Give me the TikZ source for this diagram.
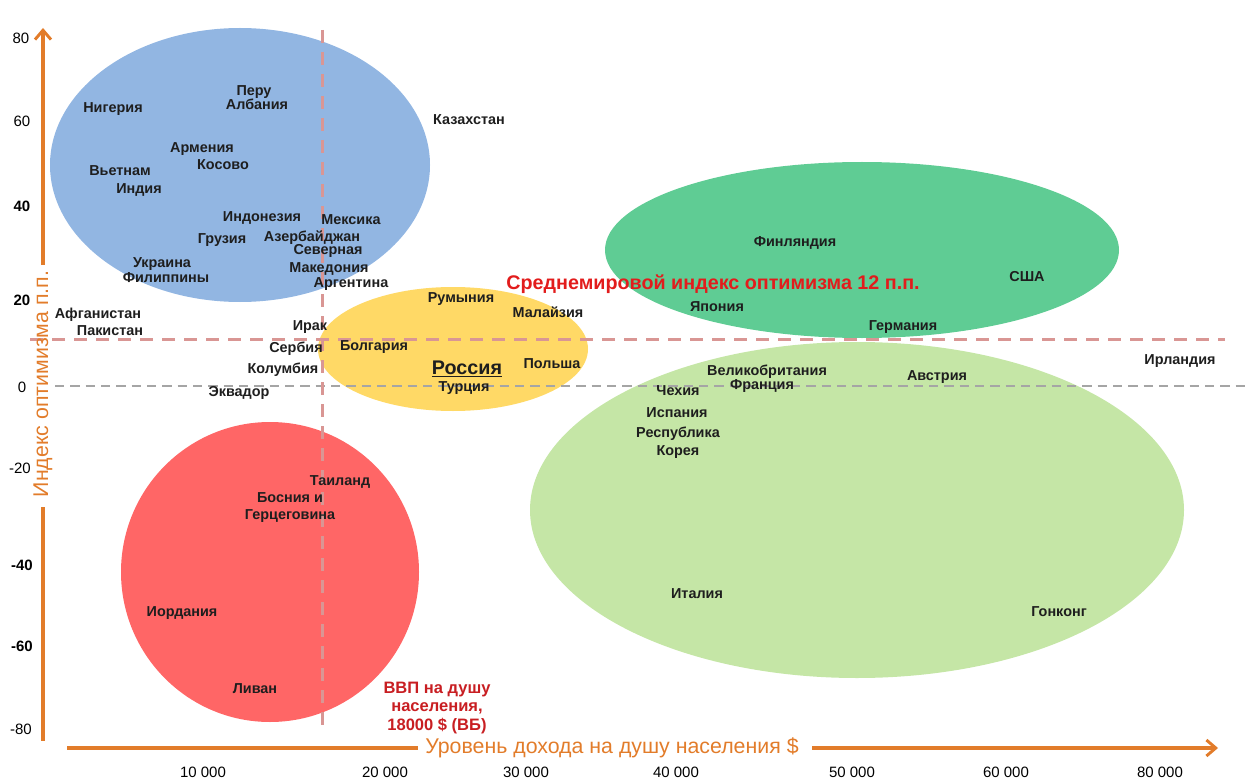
\documentclass[tikz,border=0pt]{standalone}
\usepackage{fontspec}
\setmainfont{Liberation Sans}
\usetikzlibrary{arrows.meta}

\definecolor{axisorange}{RGB}{226,124,42}
\definecolor{blueblob}{RGB}{146,182,226}
\definecolor{yellowblob}{RGB}{255,217,102}
\definecolor{greenblob}{RGB}{95,204,148}
\definecolor{lightgreenblob}{RGB}{197,230,166}
\definecolor{redblob}{RGB}{255,102,102}
\definecolor{pinkline}{RGB}{217,150,148}
\definecolor{grayline}{RGB}{165,165,165}
\definecolor{titlered}{RGB}{226,28,28}
\definecolor{notered}{RGB}{200,30,34}
\definecolor{labeltext}{RGB}{30,30,30}

\begin{document}
\begin{tikzpicture}[x=0.75pt, y=-0.75pt,
    country/.style={font=\fontsize{10.8}{12.5}\selectfont\bfseries, text=labeltext, inner sep=0pt},
    tick/.style={font=\fontsize{11.25}{13}\selectfont, text=black, inner sep=0pt},
    axisline/.style={draw=axisorange, line width=3pt},
    axislabel/.style={font=\fontsize{16}{18}\selectfont, text=axisorange, inner sep=0pt},
    meanline/.style={draw=pinkline, line width=2.25pt, dash pattern=on 10pt off 6.5pt},
    zeroline/.style={draw=grayline, line width=1.1pt, dash pattern=on 7pt off 4.5pt}]
\useasboundingbox (0,0) rectangle (1246,781);

% clusters
\fill[blueblob] (240,165) ellipse [x radius=190, y radius=137];
\fill[yellowblob] (453,349) ellipse [x radius=135, y radius=62];
\fill[greenblob] (862,250) ellipse [x radius=257, y radius=88];
\fill[lightgreenblob] (857,510) ellipse [x radius=327, y radius=168];
\fill[redblob] (270,572) ellipse [x radius=149, y radius=150];

% reference lines
\coordinate (vtop) at (322,30);
\coordinate (vbot) at (322,733);
\coordinate (hleft) at (30,339);
\coordinate (hright) at (1225,339);
\coordinate (zleft) at (55,386);
\coordinate (zright) at (1246,386);
\draw[zeroline] (zleft) -- (zright);
\draw[meanline] (hleft) -- (hright);
\draw[meanline] (vtop) -- (vbot);

% axes
\node[axislabel, rotate=90] at (43,384) (ylab) {Индекс оптимизма п.п.};
\node[axislabel] at (612,748) (xlab) {Уровень дохода на душу населения \$};
\coordinate (ytop) at (43,28);
\coordinate (yhigh) at (43,265);
\coordinate (ylow) at (43,507);
\coordinate (ybot) at (43,741);
\coordinate (xleft) at (67,748);
\coordinate (xmidl) at (418,748);
\coordinate (xmidr) at (812,748);
\coordinate (xright) at (1218,748);
\draw[axisline, -{Straight Barb[length=7pt, width=12pt, line width=2.2pt]}] (yhigh) -- (ytop);
\draw[axisline] (ylow) -- (ybot);
\draw[axisline] (xleft) -- (xmidl);
\draw[axisline, -{Straight Barb[length=7pt, width=12pt, line width=2.2pt]}] (xmidr) -- (xright);

% y ticks
\node[tick] at (21,38) (y80) {80};
\node[tick] at (22,121) (y60) {60};
\node[tick, font=\fontsize{11.25}{13}\selectfont\bfseries] at (22,206) (y40) {40};
\node[tick, font=\fontsize{11.25}{13}\selectfont\bfseries] at (22,300) (y20) {20};
\node[tick] at (22,387) (y0) {0};
\node[tick] at (20,468) (ym20) {-20};
\node[tick, font=\fontsize{11.25}{13}\selectfont\bfseries] at (22,565) (ym40) {-40};
\node[tick, font=\fontsize{11.25}{13}\selectfont\bfseries] at (22,646) (ym60) {-60};
\node[tick] at (21,729) (ym80) {-80};

% x ticks
\node[tick] at (203,772) (x10) {10 000};
\node[tick] at (385,772) (x20) {20 000};
\node[tick] at (526,772) (x30) {30 000};
\node[tick] at (676,772) (x40) {40 000};
\node[tick] at (852,772) (x50) {50 000};
\node[tick] at (1006,772) (x60) {60 000};
\node[tick] at (1160,772) (x80) {80 000};

% notes
\node[font=\fontsize{14.8}{17}\selectfont\bfseries, text=titlered, inner sep=0pt] at (713,284)
  (meannote) {Среднемировой индекс оптимизма 12 п.п.};
\node[font=\fontsize{12.4}{14}\selectfont\bfseries, text=notered, inner sep=0pt, align=center] at (437,708)
  (gdpnote) {ВВП на душу\\населения,\\18000 \$ (ВБ)};

% countries
\node[country] at (113,109) (nigeria) {Нигерия};
\node[country] at (254,92) (peru) {Перу};
\node[country] at (257,104) (albania) {Албания};
\node[country] at (202,149) (armenia) {Армения};
\node[country] at (223,165) (kosovo) {Косово};
\node[country] at (120,171) (vietnam) {Вьетнам};
\node[country] at (139,190) (india) {Индия};
\node[country] at (262,218) (indonesia) {Индонезия};
\node[country] at (351,220) (mexico) {Мексика};
\node[country] at (222,240) (georgia) {Грузия};
\node[country] at (312,238) (azerbaijan) {Азербайджан};
\node[country] at (328,251) (northern) {Северная};
\node[country] at (162,264) (ukraine) {Украина};
\node[country] at (166,278) (philippines) {Филиппины};
\node[country] at (329,269) (macedonia) {Македония};
\node[country] at (351,284) (argentina) {Аргентина};
\node[country] at (469,120) (kazakhstan) {Казахстан};
\node[country] at (98,315) (afghanistan) {Афганистан};
\node[country] at (110,331) (pakistan) {Пакистан};
\node[country] at (461,299) (romania) {Румыния};
\node[country] at (548,312) (malaysia) {Малайзия};
\node[country] at (310,327) (iraq) {Ирак};
\node[country] at (296,349) (serbia) {Сербия};
\node[country] at (374,347) (bulgaria) {Болгария};
\node[country] at (283,370) (colombia) {Колумбия};
\node[country, font=\fontsize{14.8}{17}\selectfont\bfseries] at (467,369) (russia) {\underline{Россия}};
\node[country] at (464,388) (turkey) {Турция};
\node[country] at (552,364) (poland) {Польша};
\node[country] at (239,393) (ecuador) {Эквадор};
\node[country] at (795,243) (finland) {Финляндия};
\node[country] at (1027,277) (usa) {США};
\node[country] at (717,307) (japan) {Япония};
\node[country] at (903,327) (germany) {Германия};
\node[country] at (1180,361) (ireland) {Ирландия};
\node[country] at (767,372) (britain) {Великобритания};
\node[country] at (762,386) (france) {Франция};
\node[country] at (937,377) (austria) {Австрия};
\node[country] at (678,391) (czechia) {Чехия};
\node[country] at (677,413) (spain) {Испания};
\node[country] at (678,434) (republic) {Республика};
\node[country] at (678,452) (korea) {Корея};
\node[country] at (340,482) (thailand) {Таиланд};
\node[country] at (290,498) (bosnia) {Босния и};
\node[country] at (290,516) (herzegovina) {Герцеговина};
\node[country] at (697,594) (italy) {Италия};
\node[country] at (1059,612) (hongkong) {Гонконг};
\node[country] at (182,613) (jordan) {Иордания};
\node[country] at (255,689) (lebanon) {Ливан};
\end{tikzpicture}
\end{document}
